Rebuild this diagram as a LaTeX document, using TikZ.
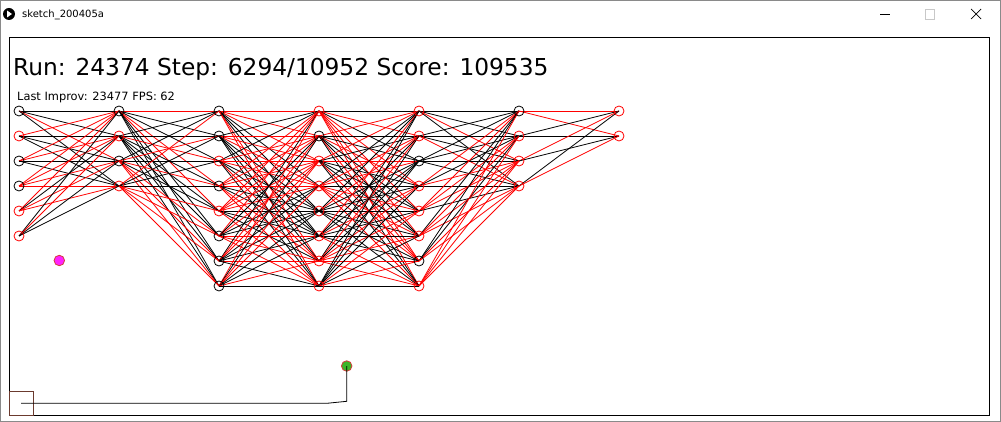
\documentclass[tikz,border=0pt]{standalone}
\usepackage{fontspec}
\setmainfont{DejaVu Sans}
\usepackage{xcolor}
\usetikzlibrary{arrows.meta,positioning,backgrounds}
\definecolor{FRAME}{HTML}{8A8A8A}
\definecolor{MAXB}{HTML}{C8C8C8}
\definecolor{BOX}{HTML}{6B3A2E}
\definecolor{FOOD}{HTML}{FF22FF}
\definecolor{AGENT}{HTML}{3CB528}
\definecolor{RIM}{HTML}{D23C3C}
\definecolor{WIRE}{HTML}{FF0000}

\begin{document}
\begin{tikzpicture}[
  x=1pt, y=-1pt,
  nd/.style={circle, line width=0.8pt, minimum size=10pt, inner sep=0pt},
  nk/.style={nd, draw=black},
  nr/.style={nd, draw=WIRE},
  wire/.style={line width=0.8pt},
  dot/.style={circle, draw=RIM, line width=0.8pt, minimum size=10.5pt, inner sep=0pt},
  head/.style={font=\fontsize{23.3}{26}\selectfont, inner sep=0pt, anchor=base west},
  stat/.style={font=\fontsize{11.4}{13}\selectfont, inner sep=0pt, anchor=base west},
]
\useasboundingbox (0,0) rectangle (1001,422);

% ===== window chrome =====
\draw[FRAME, line width=0.8pt] (0.5,0.5) rectangle (1000.5,421.5);
\node[circle, fill=black, minimum size=12pt, inner sep=0pt] (icon) at (9,14) {};
\fill[white] (7,10.5) -- (12,14) -- (7,17.5) -- cycle;
\node[font=\fontsize{10}{12}\selectfont, inner sep=0pt, anchor=base west] (title) at (22,17.5) {sketch\_200405a};
\draw[line width=0.8pt] (880,14.5) -- (890,14.5);
\draw[MAXB, line width=0.6pt] (925.5,9.5) rectangle (934.5,19.5);
\draw[line width=0.7pt] (971,9) -- (981,19) (981,9) -- (971,19);

% canvas
\draw[line width=1pt] (9.5,38) rectangle (989.5,415.5);

% ===== texts =====
\node[head] (run) at (13,76) {Run: 24374 Step: 6294/10952 Score: 109535};
\node[stat] (improv) at (17,101) {Last Improv: 23477 FPS: 62};

% ===== network =====
\foreach \l/\cols in {0/{k,r,k,k,r,r}, 1/{k,r,k,r}, 2/{k,k,r,k,r,k,k,k},
    3/{r,k,r,r,r,r,r,r}, 4/{r,r,k,r,r,r,k,r}, 5/{k,r,r,r}, 6/{r,r}} {
  \foreach \c [count=\j from 0] in \cols {
    \node[n\c] (n\l-\j) at (19+100*\l, 111+25*\j) {};
  }
}
\begin{scope}[on background layer]
\fill[white] (0,0) rectangle (1001,422);
\pgfmathsetseed{405}
\foreach \a/\na/\nb in {0/5/3, 1/3/7, 2/7/7, 3/7/7, 4/7/3, 5/3/1} {
  \pgfmathtruncatemacro\b{\a+1}
  \foreach \i in {0,...,\na} {
    \foreach \j in {0,...,\nb} {
      \pgfmathrandominteger{\rc}{0}{9}
      \ifnum\rc<5 \def\ec{WIRE}\else\def\ec{black}\fi
      \draw[wire, \ec] (n\a-\i.center) -- (n\b-\j.center);
    }
  }
}
\end{scope}

% ===== world =====
\node[dot, fill=FOOD] (food) at (59.3,260.5) {};
\node[dot, fill=AGENT] (agent) at (346.7,366) {};
\draw[BOX, line width=0.8pt] (9.5,391.5) rectangle (33.5,415.5);
\coordinate (trail) at (21,403.3);
\coordinate (kink) at (327,403.3);
\coordinate (turn) at (346.7,401.3);
\draw[line width=0.8pt] (trail) -- (kink) -- (turn) -- (agent.center);
\end{tikzpicture}
\end{document}
